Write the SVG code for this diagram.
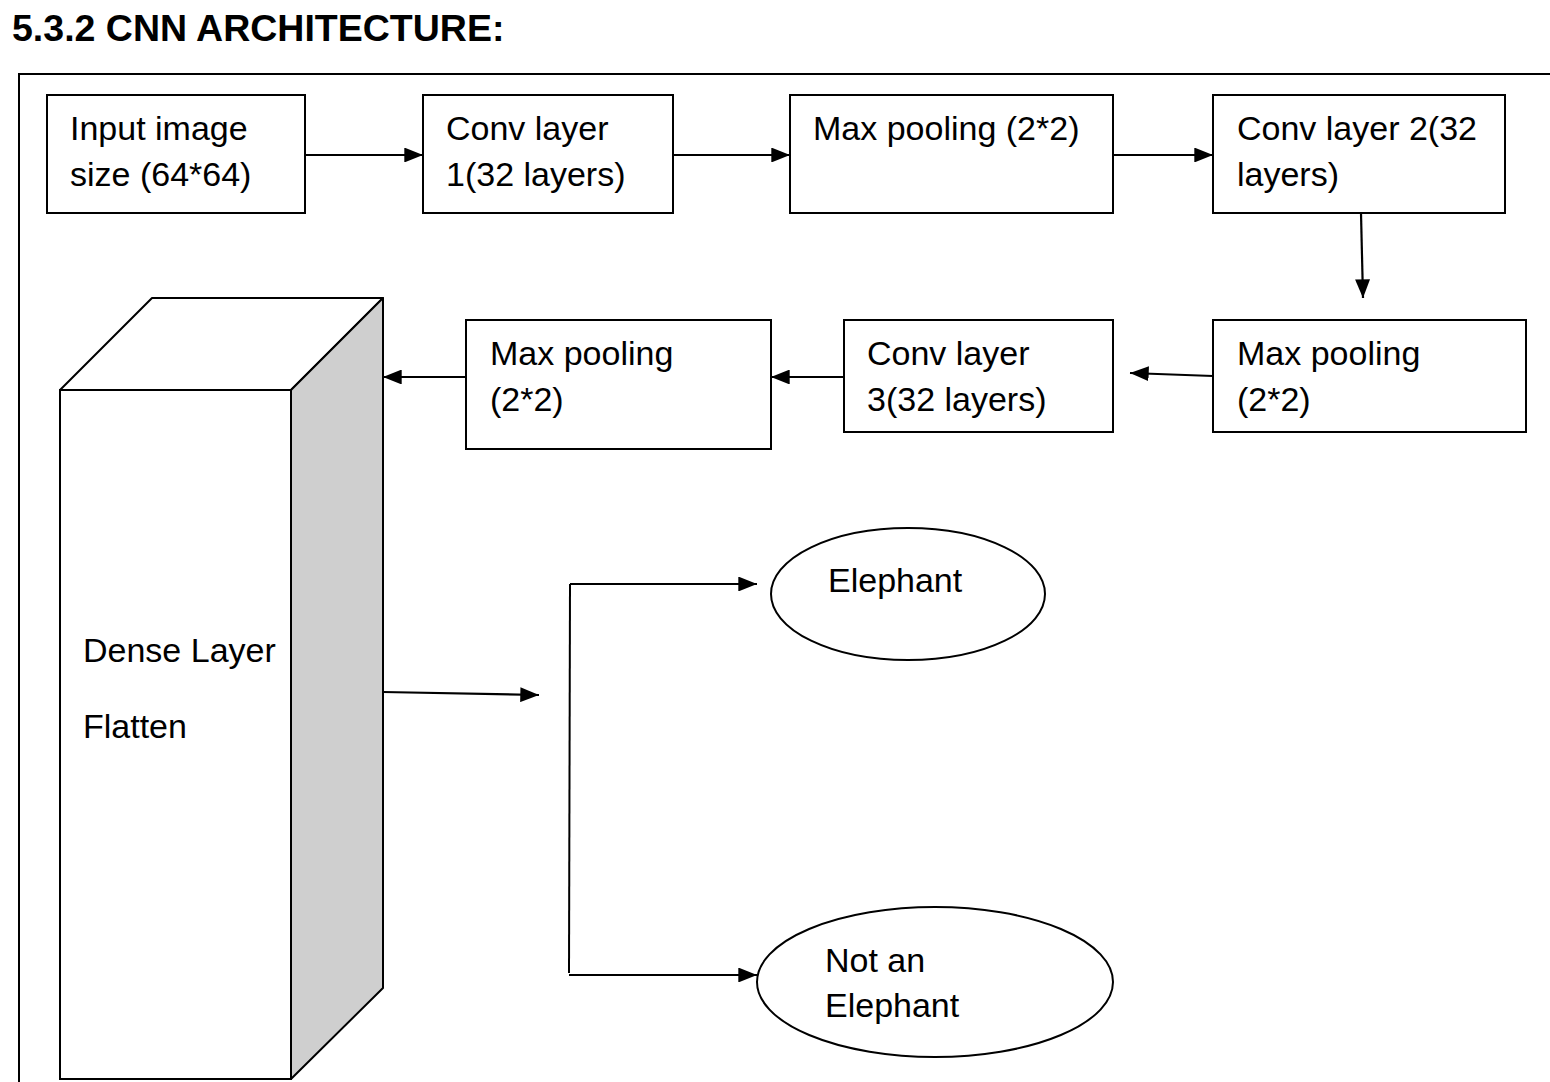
<svg xmlns="http://www.w3.org/2000/svg" width="1550" height="1082" viewBox="0 0 1550 1082">
<style>
text{font-family:"Liberation Sans",Arial,sans-serif;font-size:34px;fill:#000}
.title{font-weight:bold;font-size:37.5px}
.box{fill:#fff;stroke:#000;stroke-width:2}
.edge{fill:none;stroke:#000;stroke-width:2.2;marker-end:url(#ah)}
</style>
<defs>
<marker id="ah" viewBox="0 0 10 8" refX="10" refY="4" markerWidth="8.5" markerHeight="6.8" orient="auto">
<path d="M0,0 L10,4 L0,8 Z" fill="#000"/>
</marker>
</defs>
<rect width="1550" height="1082" fill="#fff"/>
<text class="title" x="12" y="41">5.3.2 CNN ARCHITECTURE:</text>
<path d="M19,1082 V74 H1550" fill="none" stroke="#000" stroke-width="2"/>
<g id="n1"><rect class="box" x="47" y="95" width="258" height="118"/><text x="70" y="140">Input image</text><text x="70" y="186">size (64*64)</text></g>
<g id="n2"><rect class="box" x="423" y="95" width="250" height="118"/><text x="446" y="140">Conv layer</text><text x="446" y="186">1(32 layers)</text></g>
<g id="n3"><rect class="box" x="790" y="95" width="323" height="118"/><text x="813" y="140">Max pooling (2*2)</text></g>
<g id="n4"><rect class="box" x="1213" y="95" width="292" height="118"/><text x="1237" y="140">Conv layer 2(32</text><text x="1237" y="186">layers)</text></g>
<g id="n5"><rect class="box" x="1213" y="320" width="313" height="112"/><text x="1237" y="365">Max pooling</text><text x="1237" y="411">(2*2)</text></g>
<g id="n6"><rect class="box" x="844" y="320" width="269" height="112"/><text x="867" y="365">Conv layer</text><text x="867" y="411">3(32 layers)</text></g>
<g id="n7"><rect class="box" x="466" y="320" width="305" height="129"/><text x="490" y="365">Max pooling</text><text x="490" y="411">(2*2)</text></g>
<g id="n8">
<polygon points="60,390 152,298 383,298 291,390" fill="#fff" stroke="#000" stroke-width="2" stroke-linejoin="round"/>
<polygon points="291,390 383,298 383,988 291,1079" fill="#cfcfcf" stroke="#000" stroke-width="2" stroke-linejoin="round"/>
<rect class="box" x="60" y="390" width="231" height="689"/>
<text x="83" y="662">Dense Layer</text><text x="83" y="738">Flatten</text>
</g>
<g id="n9"><ellipse cx="908" cy="594" rx="137" ry="66" fill="#fff" stroke="#000" stroke-width="2"/><text x="828" y="592">Elephant</text></g>
<g id="n10"><ellipse cx="935" cy="982" rx="178" ry="75" fill="#fff" stroke="#000" stroke-width="2"/><text x="825" y="972">Not an</text><text x="825" y="1017">Elephant</text></g>
<g id="edges">
<path class="edge" d="M305,155 H423"/>
<path class="edge" d="M673,155 H790"/>
<path class="edge" d="M1113,155 H1213"/>
<path class="edge" d="M1361,213 L1363,298"/>
<path class="edge" d="M1213,376 L1130,373"/>
<path class="edge" d="M844,377 H771"/>
<path class="edge" d="M466,377 H383"/>
<path class="edge" d="M383,692 L539,695"/>
<path d="M569,973 L570,584" fill="none" stroke="#000" stroke-width="2"/>
<path class="edge" d="M570,584 H757"/>
<path class="edge" d="M569,975 H757"/>
</g>
</svg>
